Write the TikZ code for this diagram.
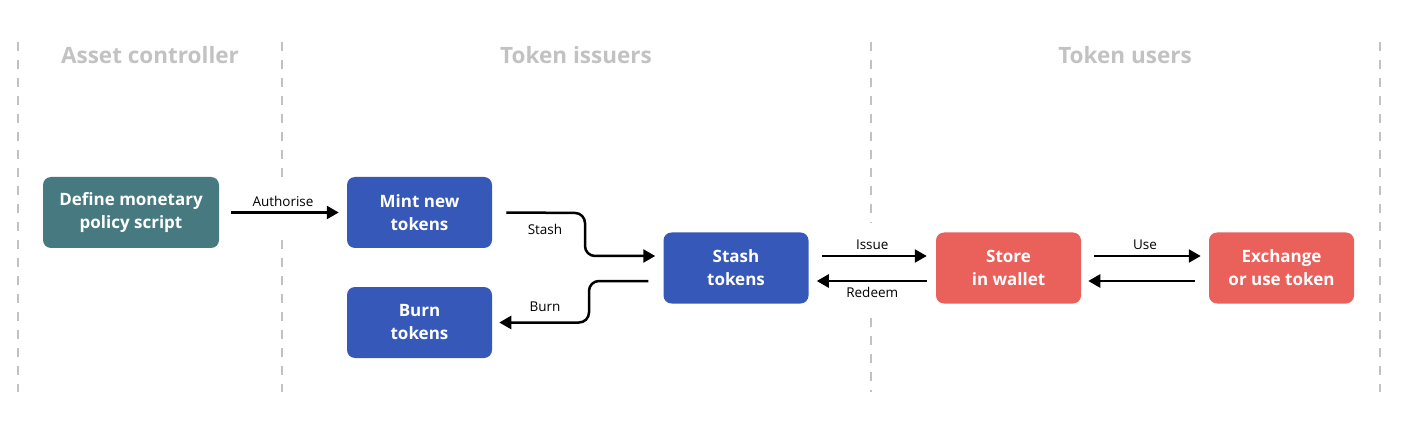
\documentclass[tikz,border=0pt]{standalone}
\usepackage{fontspec}
\setmainfont{Open Sans}
\usepackage{xcolor}
\usepackage{tikz}
\usetikzlibrary{arrows.meta,shapes,calc,positioning}

\definecolor{tealbox}{HTML}{467A80}
\definecolor{bluebox}{HTML}{3658B8}
\definecolor{redbox}{HTML}{EA615C}
\definecolor{lanegray}{HTML}{C2C2C2}

\begin{document}
\begin{tikzpicture}[x=1pt, y=-1pt, ->, >={Triangle[length=12pt,width=13pt]}, line width=2.5pt, auto,
    node distance=110pt,
    box/.style={rectangle, rounded corners=8pt, minimum width=145pt, minimum height=71pt, align=center,
        text=white, font=\fontsize{17}{23}\selectfont\bfseries, inner sep=0pt},
    lane/.style={-, draw=lanegray, line width=2pt, dash pattern=on 9pt off 9pt},
    head/.style={text=lanegray, font=\fontsize{22.5}{26}\selectfont\bfseries},
    lbl/.style={font=\fontsize{13.5}{15}\selectfont, text=black, inner sep=5pt}]
\useasboundingbox (0,0) rectangle (1423,438);
\begin{scope}
    % lanes
    \draw [lane] (18,42) -- (18,392);
    \draw [lane] (282,42) -- (282,178);
    \draw [lane] (282,240) -- (282,392);
    \draw [lane] (871,42) -- (871,223);
    \draw [lane] (871,318) -- (871,392);
    \draw [lane] (1380,42) -- (1380,392);

    \node [head] (hac) at (150,55) {Asset controller};
    \node [head] (hti) at (576,55) {Token issuers};
    \node [head] (htu) at (1125,55) {Token users};

    \node [box, fill=tealbox, minimum width=176pt] (def) at (131,212.5) {Define monetary\\policy script};
    \node [box, fill=bluebox] (mint) at (419.5,212.5) {Mint new\\tokens};
    \node [box, fill=bluebox] (burn) [below of=mint] {Burn\\tokens};
    \node [box, fill=bluebox] (stash) at (736,268) {Stash\\tokens};
    \node [box, fill=redbox] (store) at (1008.5,268) {Store\\in wallet};
    \node [box, fill=redbox] (exch) at (1281.5,268) {Exchange\\or use token};

    \path (def) edge [shorten <=11pt, shorten >=7pt] node [lbl] {Authorise} (mint)
          ([yshift=12pt]stash.east) edge [shorten <=12pt, shorten >=8pt] node [lbl] {Issue} ([yshift=12pt]store.west)
          ([yshift=-13pt]store.west) edge [shorten <=8pt, shorten >=7pt] node [lbl] {Redeem} ([yshift=-13pt]stash.east)
          ([yshift=12pt]store.east) edge [shorten <=12pt, shorten >=7pt] node [lbl] {Use} ([yshift=12pt]exch.west)
          ([yshift=-13pt]exch.west) edge [shorten <=13pt, shorten >=6pt] ([yshift=-13pt]store.east);

    \draw [rounded corners=10pt] ([xshift=13pt]mint.east) -- (585,213) -- (585,256)
        -- ([xshift=-7pt,yshift=12pt]stash.west);
    \draw [rounded corners=10pt] ([xshift=-14pt,yshift=-13pt]stash.west) -- (589,281) -- (589,322.5)
        -- ([xshift=6pt]burn.east);
    \node [lbl] (lstash) at (545,229) {Stash};
    \node [lbl] (lburn) at (545,307) {Burn};
\end{scope}
\end{tikzpicture}
\end{document}
